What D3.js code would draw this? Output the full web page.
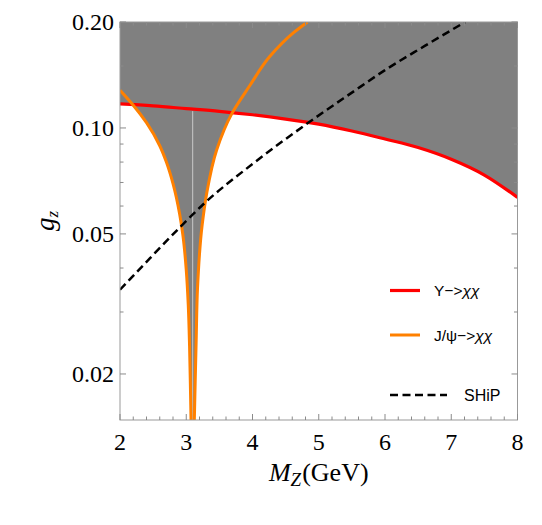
<!DOCTYPE html>
<html><head><meta charset="utf-8">
<script src="https://cdn.jsdelivr.net/npm/d3@7"></script>
<style>body{margin:0;background:#fff}svg{display:block}</style>
</head><body><svg id="c" width="542" height="525"></svg>
<script>
// ---- data ----
const upsilonM = [2.0, 2.5, 3.0, 3.5, 4.0, 4.5, 5.0, 5.5, 6.0, 6.5, 7.0, 7.5, 8.0];
const upsilonG = [0.117, 0.1155, 0.1135, 0.1115, 0.109, 0.106, 0.1025, 0.098, 0.093, 0.088, 0.0815, 0.0735, 0.0635];

const jpsiLeftM = [2.0, 2.2, 2.4, 2.6, 2.7, 2.8, 2.9, 2.95, 3.0, 3.03, 3.05, 3.065, 3.072];
const jpsiLeftG = [0.128, 0.116, 0.1035, 0.089, 0.080, 0.0695, 0.057, 0.0495, 0.0395, 0.0315, 0.024, 0.0175, 0.0148];
const jpsiRightM = [3.122, 3.135, 3.15, 3.17, 3.24, 3.31, 3.46, 3.69, 3.96, 4.26, 4.62, 4.83];
const jpsiRightG = [0.0148, 0.019, 0.025, 0.035, 0.053, 0.0654, 0.0867, 0.110, 0.132, 0.1595, 0.1865, 0.200];
const jpsiMass = 3.097;

const shipM = [2.0, 2.45, 2.93, 3.25, 4.0, 4.84, 5.5, 6.0, 6.6, 7.21];
const shipG = [0.0347, 0.0426, 0.0528, 0.0605, 0.079, 0.1034, 0.126, 0.146, 0.171, 0.200];

const xDomain = [2, 8];
const yDomain = [0.0148, 0.2];
const xMajor = [2, 3, 4, 5, 6, 7, 8];
const xMinor = [2.2,2.4,2.6,2.8,3.2,3.4,3.6,3.8,4.2,4.4,4.6,4.8,5.2,5.4,5.6,5.8,6.2,6.4,6.6,6.8,7.2,7.4,7.6,7.8];
const yMajor = [0.02, 0.05, 0.1, 0.2];
const yMajorLabels = ["0.02", "0.05", "0.10", "0.20"];
const yMinor = [0.03, 0.04, 0.06, 0.07, 0.08, 0.09, 0.15];

const legendLabels = ["Υ\u2212>", "J/ψ\u2212>", "SHiP"];

// ---- layout ----
const L = 120, R = 517.5, T = 22, B = 420;
const svg = d3.select("#c");
const x = d3.scaleLinear().domain(xDomain).range([L, R]);
const y = d3.scaleLog().domain(yDomain).range([B, T]);

const zip = (a, b) => a.map((v, i) => [v, b[i]]);
const ups = zip(upsilonM, upsilonG);
const jl = zip(jpsiLeftM, jpsiLeftG);
const jr = zip(jpsiRightM, jpsiRightG);
const ship = zip(shipM, shipG);

svg.append("defs").append("clipPath").attr("id", "clip")
  .append("rect").attr("x", L).attr("y", T).attr("width", R - L).attr("height", B - T);

const g = svg.append("g").attr("clip-path", "url(#clip)");
const line = d3.line().x(d => x(d[0])).y(d => y(d[1])).curve(d3.curveMonotoneX);
const lineY = d3.line().x(d => x(d[0])).y(d => y(d[1])).curve(d3.curveMonotoneY);

// gray excluded region: above Upsilon curve
const areaUp = d3.area().x(d => x(d[0])).y0(d => y(d[1])).y1(() => y(yDomain[1])).curve(d3.curveMonotoneX);
g.append("path").attr("d", areaUp(ups)).attr("fill", "#808080");
// gray excluded region: above J/psi curve
const dPsi = lineY(jl) + lineY(jr).replace(/^M/, "L") +
  "L" + x(xDomain[0]) + "," + y(yDomain[1]) + "Z";
g.append("path").attr("d", dPsi).attr("fill", "#808080");

// thin light artifact line at J/psi mass
const redAt = m => {
  const i = d3.bisectRight(upsilonM, m) - 1;
  const t = (m - upsilonM[i]) / (upsilonM[i + 1] - upsilonM[i]);
  return upsilonG[i] + t * (upsilonG[i + 1] - upsilonG[i]);
};
g.append("line").attr("x1", x(jpsiMass)).attr("x2", x(jpsiMass))
  .attr("y1", y(redAt(jpsiMass)) + 2).attr("y2", B)
  .attr("stroke", "#c8c8c8").attr("stroke-width", 1);

// curves
g.append("path").attr("d", line(ups)).attr("fill", "none").attr("stroke", "#ff0000").attr("stroke-width", 3.2);
g.append("path").attr("d", lineY(jl)).attr("fill", "none").attr("stroke", "#ff8000").attr("stroke-width", 3);
g.append("path").attr("d", lineY(jr)).attr("fill", "none").attr("stroke", "#ff8000").attr("stroke-width", 3);
g.append("path").attr("d", line(ship)).attr("fill", "none").attr("stroke", "#000").attr("stroke-width", 2.5)
  .attr("stroke-dasharray", "8,4.5");

// frame and ticks
const fr = svg.append("g").attr("stroke", "#999").attr("stroke-width", 1).attr("fill", "none");
fr.append("rect").attr("x", L).attr("y", T).attr("width", R - L).attr("height", B - T);
const tk = svg.append("g").attr("stroke", "#8a8a8a").attr("stroke-width", 1);
xMajor.forEach(v => {
  tk.append("line").attr("x1", x(v)).attr("x2", x(v)).attr("y1", B).attr("y2", B - 6);
  tk.append("line").attr("x1", x(v)).attr("x2", x(v)).attr("y1", T).attr("y2", T + 6);
});
xMinor.forEach(v => {
  tk.append("line").attr("x1", x(v)).attr("x2", x(v)).attr("y1", B).attr("y2", B - 3.5);
  tk.append("line").attr("x1", x(v)).attr("x2", x(v)).attr("y1", T).attr("y2", T + 3.5);
});
yMajor.forEach(v => {
  tk.append("line").attr("x1", L).attr("x2", L + 6).attr("y1", y(v)).attr("y2", y(v));
  tk.append("line").attr("x1", R).attr("x2", R - 6).attr("y1", y(v)).attr("y2", y(v));
});
yMinor.forEach(v => {
  tk.append("line").attr("x1", L).attr("x2", L + 3.5).attr("y1", y(v)).attr("y2", y(v));
  tk.append("line").attr("x1", R).attr("x2", R - 3.5).attr("y1", y(v)).attr("y2", y(v));
});

// tick labels
const serif = "'Liberation Serif', 'Times New Roman', serif";
svg.append("g").selectAll("text").data(xMajor).join("text")
  .attr("x", d => x(d)).attr("y", B + 30).attr("text-anchor", "middle")
  .style("font-family", serif).style("font-size", "24px").attr("fill", "#000").text(d => d);
svg.append("g").selectAll("text").data(yMajor).join("text")
  .attr("x", L - 6).attr("y", d => y(d) + 8).attr("text-anchor", "end")
  .style("font-family", serif).style("font-size", "24px").attr("fill", "#000").text((d, i) => yMajorLabels[i]);

// axis titles
const xt = svg.append("text").attr("x", (L + R) / 2).attr("y", 481).attr("text-anchor", "middle")
  .style("font-family", serif).style("font-size", "26px");
xt.append("tspan").style("font-style", "italic").text("M");
xt.append("tspan").style("font-style", "italic").style("font-size", "19px").attr("dy", 5).text("Z");
xt.append("tspan").attr("dy", -5).attr("dx", 1).text("(GeV)");

const yt = svg.append("text").attr("transform", "translate(54,221) rotate(-90)").attr("text-anchor", "middle")
  .style("font-family", serif).style("font-size", "27px");
yt.append("tspan").style("font-style", "italic").text("g");
yt.append("tspan").style("font-style", "italic").style("font-size", "17px").attr("dy", 4).text("z");

// legend
const sans = "'Liberation Sans', Arial, sans-serif";
const lg = svg.append("g");
lg.append("line").attr("x1", 390).attr("x2", 420).attr("y1", 290.5).attr("y2", 290.5).attr("stroke", "#ff0000").attr("stroke-width", 3.2);
lg.append("line").attr("x1", 390).attr("x2", 420).attr("y1", 335).attr("y2", 335).attr("stroke", "#ff8000").attr("stroke-width", 3);
lg.append("line").attr("x1", 390).attr("x2", 447).attr("y1", 395).attr("y2", 395).attr("stroke", "#000").attr("stroke-width", 2.5).attr("stroke-dasharray", "8,4.5");
const t1 = lg.append("text").attr("x", 434).attr("y", 296).style("font-family", sans).style("font-size", "15.5px");
t1.append("tspan").text(legendLabels[0]);
t1.append("tspan").style("font-style", "italic").text("χχ");
const t2 = lg.append("text").attr("x", 434).attr("y", 341).style("font-family", sans).style("font-size", "15.5px");
t2.append("tspan").text(legendLabels[1]);
t2.append("tspan").style("font-style", "italic").text("χχ");
lg.append("text").attr("x", 464).attr("y", 401).style("font-family", sans).style("font-size", "16px").text(legendLabels[2]);
</script></body></html>
